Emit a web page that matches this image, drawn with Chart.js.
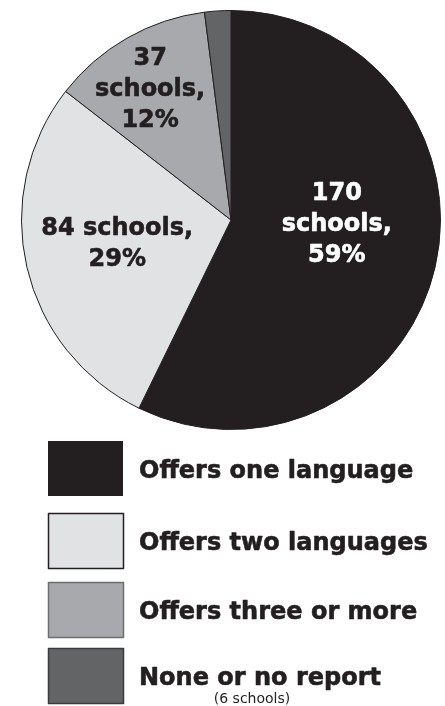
<!DOCTYPE html>
<html>
<head>
<meta charset="utf-8">
<script src="https://cdn.jsdelivr.net/npm/chart.js@4"></script>
<style>
  html, body { margin: 0; padding: 0; background: #fff; }
  canvas { display: block; }
</style>
</head>
<body>
<canvas id="pie" width="445" height="706"></canvas>
<script>
// data
const categories = ['Offers one language', 'Offers two languages', 'Offers three or more', 'None or no report'];
const schoolCounts = [170, 84, 37, 6];
const percentLabels = ['59%', '29%', '12%', ''];
const legendNotes = ['', '', '', '(6 schools)'];
const sliceColors = ['#231f20', '#e1e2e4', '#a7a9ac', '#636466'];

// slice label placement (fraction of radius from centre) + text colour
const labelSpots = [
    { dx: 0.505, dy: 0.025, color: '#fff', lines: c => [String(c), 'schools,'] },
    { dx: -0.543, dy: 0.114, color: '#231f20', lines: c => [c + ' schools,'] },
    { dx: -0.386, dy: -0.62, color: '#231f20', lines: c => [String(c), 'schools,'] },
    null
];

// heavy text: fill plus a thin stroke in the same colour
function heavyText(ctx, t, x, y) {
    ctx.fillText(t, x, y);
    ctx.strokeStyle = ctx.fillStyle;
    ctx.lineWidth = 0.6;
    ctx.lineJoin = 'round';
    ctx.strokeText(t, x, y);
}

const sliceLabels = {
    id: 'sliceLabels',
    afterDatasetsDraw(chart) {
        const ctx = chart.ctx;
        const arc = chart.getDatasetMeta(0).data[0];
        const cx = arc.x, cy = arc.y, r = arc.outerRadius;
        ctx.save();
        ctx.font = 'bold 24px "DejaVu Sans"';
        ctx.textAlign = 'center';
        ctx.textBaseline = 'middle';
        labelSpots.forEach((s, i) => {
            if (!s) return;
            const lines = s.lines(schoolCounts[i]).concat(percentLabels[i]);
            const lh = 31;
            const x = cx + s.dx * r;
            const y0 = cy + s.dy * r - (lines.length - 1) * lh / 2;
            ctx.fillStyle = s.color;
            lines.forEach((t, k) => heavyText(ctx, t, x, y0 + k * lh));
        });
        ctx.restore();
    }
};

const boxLegend = {
    id: 'boxLegend',
    afterDraw(chart) {
        const ctx = chart.ctx;
        const tops = [441, 513, 582, 648];
        const borders = ['#231f20', '#231f20', '#6d6e70', '#3a3a3c'];
        ctx.save();
        chart.data.labels.forEach((lab, i) => {
            const y = tops[i];
            ctx.fillStyle = sliceColors[i];
            ctx.fillRect(48, y, 75, 55);
            if (i > 0) {
                ctx.strokeStyle = borders[i];
                ctx.lineWidth = 1.5;
                ctx.strokeRect(48.5, y + 0.5, 75, 55);
            }
            ctx.fillStyle = '#231f20';
            ctx.font = 'bold 24px "DejaVu Sans"';
            ctx.textAlign = 'left';
            ctx.textBaseline = 'middle';
            heavyText(ctx, lab, 139, y + 31);
            if (legendNotes[i]) {
                ctx.font = '14px "DejaVu Sans"';
                ctx.textAlign = 'center';
                ctx.fillText(legendNotes[i], 252, y + 51);
            }
        });
        ctx.restore();
    }
};

new Chart(document.getElementById('pie'), {
    type: 'pie',
    data: {
        labels: categories,
        datasets: [{
            data: schoolCounts,
            backgroundColor: sliceColors,
            borderColor: '#231f20',
            borderWidth: 1
        }]
    },
    options: {
        responsive: false,
        animation: false,
        layout: { padding: { left: 21, right: 4, top: 10, bottom: 276 } },
        plugins: { legend: { display: false }, tooltip: { enabled: false } }
    },
    plugins: [sliceLabels, boxLegend]
});
</script>
</body>
</html>
